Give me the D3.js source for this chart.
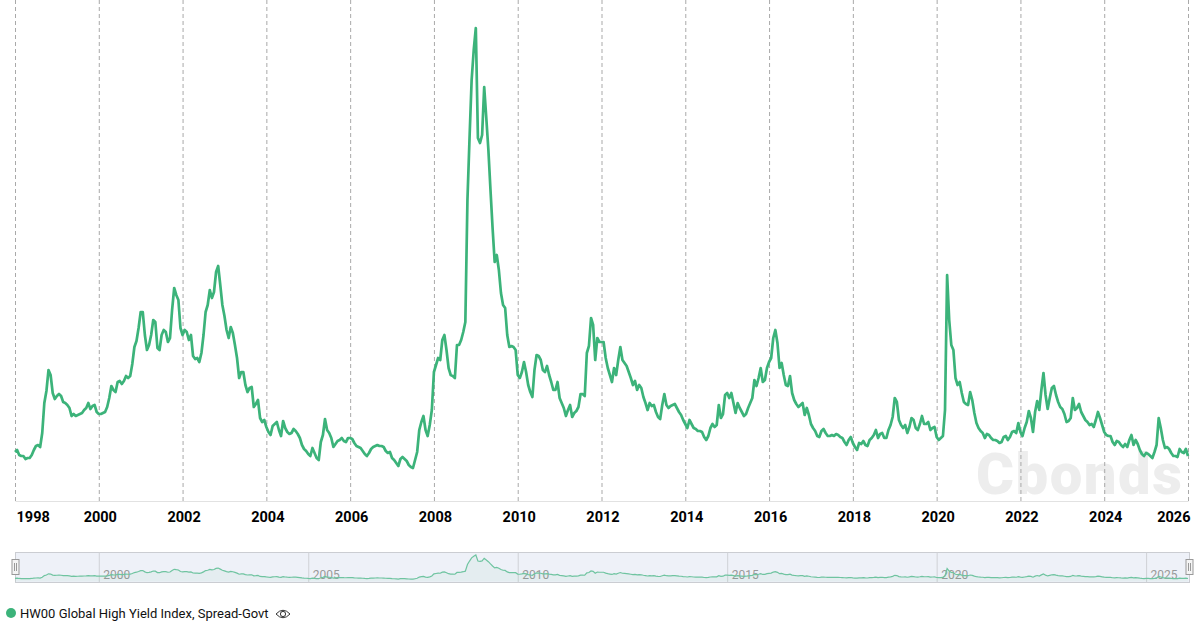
<!DOCTYPE html>
<html lang="en">
<head>
    <meta charset="UTF-8">
    <title>HW00 Global High Yield Index, Spread-Govt</title>
    <style>
        body { margin: 0; background: #fff; font-family: Roboto, sans-serif; }
        svg { display: block; }
    </style>
</head>
<body>
    <div id="chart-area"></div>
    <script src="https://d3js.org/d3.v7.min.js"></script>
    <script>
        // spread in bp, 20 samples per year
        const y1998 = [296,304,284,280,280,268,272,272,284,304,320,324,316,372,492,540,624,604,532,508];
        const y1999 = [520,528,520,496,492,484,472,440,448,440,444,448,452,464,472,492,468,480,484,456];
        const y2000 = [448,448,452,456,476,512,560,544,536,576,580,568,580,600,592,600,648,716,740,792];
        const y2001 = [856,856,764,704,724,764,824,816,712,704,764,784,776,736,752,864,952,924,904,792];
        const y2002 = [764,784,776,744,764,680,668,672,656,692,764,856,884,944,912,936,1016,1040,964,884];
        const y2003 = [840,784,752,796,772,724,672,592,616,616,564,536,552,556,476,488,504,432,416,424];
        const y2004 = [396,376,364,400,408,416,384,360,420,392,376,368,372,388,380,368,352,324,308,300];
        const y2005 = [288,280,312,292,272,264,336,364,428,384,372,352,316,328,340,344,352,340,336,352];
        const y2006 = [352,348,332,320,316,312,300,288,280,292,308,316,320,324,320,320,316,300,292,296];
        const y2007 = [272,264,252,240,268,276,268,260,244,236,232,264,296,384,416,440,384,360,404,464];
        const y2008 = [616,644,672,664,744,764,704,632,604,600,592,724,724,744,776,816,1304,1552,1784,1904];
        const y2009 = [1992,1552,1532,1564,1756,1632,1504,1344,1192,1056,1084,1024,932,884,872,764,716,720,716,704];
        const y2010 = [604,592,616,656,616,564,536,516,624,684,680,664,624,616,640,604,576,544,544,576];
        const y2011 = [512,492,472,440,464,484,436,452,460,476,528,528,520,692,720,832,804,664,752,736];
        const y2012 = [736,736,672,632,604,576,632,604,664,716,664,652,640,616,592,564,580,544,564,552];
        const y2013 = [516,492,464,492,480,484,456,436,428,484,528,484,472,480,484,488,472,456,444,424];
        const y2014 = [408,392,424,408,392,388,380,380,376,356,344,360,392,408,396,404,484,432,448,524];
        const y2015 = [532,512,532,492,452,492,472,456,440,448,472,492,512,584,560,592,632,576,584,632];
        const y2016 = [656,672,752,784,732,632,652,604,564,560,600,532,504,488,476,484,492,444,472,444];
        const y2017 = [408,392,380,360,356,380,388,372,360,360,364,360,368,364,356,352,336,324,344,356];
        const y2018 = [332,316,304,332,328,340,324,320,344,352,364,384,352,368,372,352,352,384,404,436];
        const y2019 = [512,496,424,404,392,404,372,396,432,424,392,384,408,440,408,408,416,384,392,396];
        const y2020 = [356,344,352,360,464,1004,824,724,704,592,564,576,532,496,488,484,536,504,452,412];
        const y2021 = [392,380,372,352,368,364,352,344,344,340,332,336,356,360,344,356,376,380,372,412];
        const y2022 = [376,360,392,416,460,432,376,456,500,464,544,612,524,468,512,552,560,524,496,476];
        const y2023 = [468,448,416,420,432,512,464,472,488,456,440,424,416,404,408,396,424,456,432,404];
        const y2024 = [376,364,360,360,336,324,340,336,324,316,328,316,344,364,324,344,328,304,288,280];
        const y2025 = [292,288,280,272,296,324,432,392,344,312,316,308,292,280,280,276,308,296,292,308];
        const y2026 = [280];

        const mainTicks = [1998,2000,2002,2004,2006,2008,2010,2012,2014,2016,2018,2020,2022,2024,2026];
        const navTicks = [2000,2005,2010,2015,2020,2025];
        const seriesName = "HW00 Global High Yield Index, Spread-Govt";

        const spread = [].concat(y1998,y1999,y2000,y2001,y2002,y2003,y2004,y2005,y2006,y2007,
            y2008,y2009,y2010,y2011,y2012,y2013,y2014,y2015,y2016,y2017,
            y2018,y2019,y2020,y2021,y2022,y2023,y2024,y2025,y2026);
        const data = spread.map((v, i) => ({ year: 1998 + i / 20, value: v }));

        const width = 1198;
        const height = 631;
        const green = "#3cb37a";

        const svg = d3.select("#chart-area")
            .append("svg")
                .attr("width", width)
                .attr("height", height);

        const x = d3.scaleLinear().domain([1998, 2026]).range([15, 1188]);
        const y = d3.scaleLinear().domain([100, 1992]).range([501, 28]);
        const yNav = d3.scaleLinear().domain([100, 1992]).range([581, 555]);

        // watermark sits under everything
        svg.append("text")
            .attr("x", 976)
            .attr("y", 494)
            .attr("font-family", "Roboto, sans-serif")
            .attr("font-weight", 900)
            .attr("font-size", 58)
            .attr("textLength", 206)
            .attr("lengthAdjust", "spacing")
            .attr("fill", "#ededed")
            .text("Cbonds");

        // main axis with dashed grid
        const xAxis = d3.axisBottom(x)
            .tickValues(mainTicks)
            .tickFormat(d3.format("d"))
            .tickSizeInner(-501)
            .tickSizeOuter(0)
            .tickPadding(11);

        const axisG = svg.append("g")
            .attr("transform", "translate(0,501)")
            .call(xAxis);
        axisG.select(".domain").attr("stroke", "#e2e2e2").attr("stroke-width", 1);
        axisG.selectAll(".tick line")
            .attr("stroke", "#a9a9a9")
            .attr("stroke-dasharray", "4,3");
        axisG.selectAll(".tick text")
            .attr("fill", "#000")
            .attr("font-family", "Roboto, sans-serif")
            .attr("font-weight", 700)
            .attr("font-size", 14.5)
            .attr("text-anchor", d => d === 1998 ? "start" : d === 2026 ? "end" : "middle")
            .attr("dx", d => d === 1998 ? 1 : d === 2026 ? 2 : 1);

        const line = d3.line()
            .x(d => x(d.year))
            .y(d => y(d.value));

        svg.append("path")
            .datum(data)
            .attr("fill", "none")
            .attr("stroke", green)
            .attr("stroke-width", 2.7)
            .attr("stroke-linejoin", "round")
            .attr("d", line);

        // navigator strip
        const nav = svg.append("g");
        nav.append("rect")
            .attr("x", 15.5)
            .attr("y", 552.5)
            .attr("width", 1174)
            .attr("height", 30)
            .attr("fill", "#eef1f8")
            .attr("stroke", "#cbcdd2");

        const navAxis = d3.axisBottom(x)
            .tickValues(navTicks)
            .tickFormat(d3.format("d"))
            .tickSizeInner(-30)
            .tickSizeOuter(0);
        const navG = nav.append("g")
            .attr("transform", "translate(0,582.5)")
            .call(navAxis);
        navG.select(".domain").remove();
        navG.selectAll(".tick line").attr("stroke", "#cfd1d6");
        navG.selectAll(".tick text")
            .attr("fill", "#999")
            .attr("font-family", "Roboto, sans-serif")
            .attr("font-size", 12)
            .attr("text-anchor", "start")
            .attr("dx", 4)
            .attr("y", -4)
            .attr("dy", 0);

        const navArea = d3.area()
            .x(d => x(d.year))
            .y0(581.5)
            .y1(d => yNav(d.value));
        nav.append("path")
            .datum(data)
            .attr("fill", green)
            .attr("fill-opacity", 0.06)
            .attr("d", navArea);
        nav.append("path")
            .datum(data)
            .attr("fill", "none")
            .attr("stroke", "#6fc4a0")
            .attr("stroke-width", 1.2)
            .attr("d", d3.line().x(d => x(d.year)).y(d => yNav(d.value)));

        [15.5, 1189.5].forEach(hx => {
            const h = nav.append("g").attr("transform", `translate(${hx},567)`);
            h.append("rect")
                .attr("x", -3.5).attr("y", -7.5)
                .attr("width", 7).attr("height", 15)
                .attr("fill", "#f4f4f4").attr("stroke", "#999");
            h.selectAll("line").data([-1, 1]).join("line")
                .attr("x1", d => d).attr("x2", d => d)
                .attr("y1", -4).attr("y2", 4)
                .attr("stroke", "#999");
        });

        // legend
        const legend = svg.append("g");
        legend.append("circle")
            .attr("cx", 11)
            .attr("cy", 613)
            .attr("r", 5)
            .attr("fill", green);
        legend.append("text")
            .attr("x", 20)
            .attr("y", 618)
            .attr("font-family", "Roboto, sans-serif")
            .attr("font-size", 13)
            .attr("fill", "#111")
            .text(seriesName);
        const eye = legend.append("g")
            .attr("transform", "translate(283,614)")
            .attr("fill", "none")
            .attr("stroke", "#333")
            .attr("stroke-width", 1);
        eye.append("path").attr("d", "M-7,0 Q0,-7.5 7,0 Q0,7.5 -7,0 Z");
        eye.append("circle").attr("r", 2.6);
    </script>
</body>
</html>
